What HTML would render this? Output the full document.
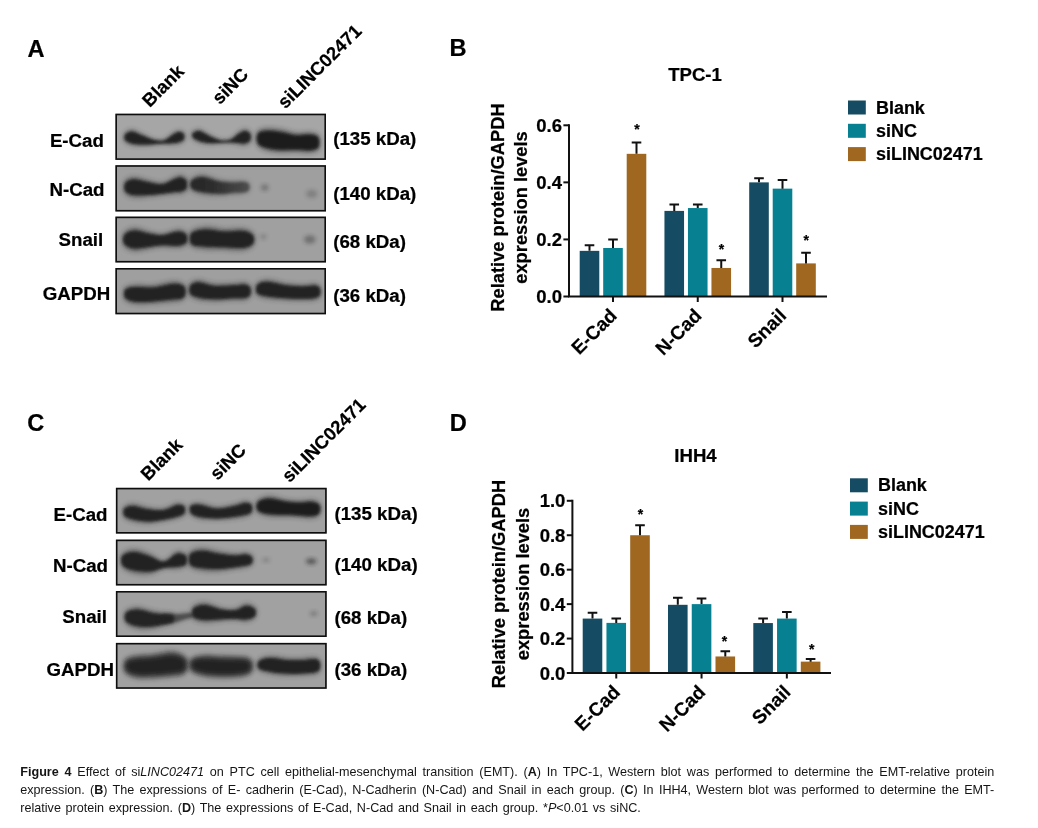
<!DOCTYPE html>
<html lang="en"><head><meta charset="utf-8"><title>Figure 4</title>
<style>
html,body{margin:0;padding:0;background:#fff;}
body{width:1038px;height:828px;position:relative;overflow:hidden;font-family:'Liberation Sans', sans-serif;}
svg{position:absolute;left:0;top:0;}
svg text{font-family:'Liberation Sans', sans-serif;fill:#000;stroke:#000;stroke-width:0.22px;}
.cap{position:absolute;left:20.3px;width:974px;font-size:12.6px;color:#151515;line-height:18px;height:18px;overflow:visible;}
.j{text-align:justify;text-align-last:justify;}
.l3{white-space:nowrap;word-spacing:1.15px;}
.cap b{font-weight:bold;}
</style></head><body>
<svg width="1038" height="828" viewBox="0 0 1038 828">
<defs>
<filter id="b1" x="-20%" y="-50%" width="140%" height="200%"><feGaussianBlur stdDeviation="1.7"/></filter>
<filter id="b2" x="-50%" y="-50%" width="200%" height="200%"><feGaussianBlur stdDeviation="2.2"/></filter>
<filter id="b3" x="-20%" y="-50%" width="140%" height="200%"><feGaussianBlur stdDeviation="2.4"/></filter>
<linearGradient id="g1" x1="0" y1="0" x2="1" y2="0"><stop offset="0" stop-color="#242424"/><stop offset="0.35" stop-color="#2a2a2a"/><stop offset="1" stop-color="#4c4c4c"/></linearGradient>
</defs>

<text x="27.50" y="56.80" font-size="23.6" font-weight="bold" text-anchor="start">A</text>
<clipPath id="cpa1"><rect x="115.4" y="113.7" width="210.6" height="46.2"/></clipPath>
<rect x="115.4" y="113.7" width="210.6" height="46.2" fill="#a6a6a6"/>
<g clip-path="url(#cpa1)">
<path d="M124.4 133.7C125.7 131.8 128.9 129.6 131.9 129.6C134.9 129.7 139.0 132.6 142.5 134.1C146.0 135.7 149.6 138.0 153.1 139.0C156.7 139.9 160.6 140.7 163.7 139.9C166.8 139.1 169.3 135.7 171.7 134.1C174.1 132.5 176.2 130.7 178.4 130.5C180.5 130.3 183.4 131.3 184.5 132.9C185.5 134.6 185.5 138.6 184.5 140.4C183.4 142.2 180.5 143.2 178.4 143.9C176.2 144.6 174.1 144.5 171.7 144.5C169.3 144.5 166.8 143.9 163.7 144.0C160.6 144.1 156.7 144.6 153.1 144.9C149.6 145.3 146.0 146.0 142.5 146.1C139.0 146.1 134.9 146.1 131.9 145.3C128.9 144.5 125.7 143.1 124.4 141.2C123.2 139.3 123.2 135.6 124.4 133.7Z" fill="#242424" opacity="0.45" filter="url(#b3)"/>
<path d="M125.2 134.6C126.3 133.2 129.0 131.4 131.9 131.5C134.7 131.7 139.0 134.2 142.5 135.6C146.0 137.0 149.6 138.9 153.1 139.7C156.7 140.5 160.6 141.1 163.7 140.4C166.8 139.7 169.3 136.8 171.7 135.4C174.1 134.0 176.4 132.4 178.4 132.1C180.3 131.9 182.8 132.6 183.7 133.8C184.6 135.1 184.6 138.1 183.7 139.5C182.8 140.9 180.3 141.6 178.4 142.2C176.4 142.9 174.1 143.0 171.7 143.2C169.3 143.5 166.8 143.3 163.7 143.5C160.6 143.7 156.7 144.0 153.1 144.2C149.6 144.4 146.0 144.7 142.5 144.6C139.0 144.5 134.7 144.1 131.9 143.4C129.0 142.6 126.3 141.7 125.2 140.3C124.1 138.8 124.1 136.1 125.2 134.6Z" fill="#242424" opacity="1.00" filter="url(#b1)"/>
<path d="M192.2 132.3C193.4 130.9 196.8 129.1 199.6 129.4C202.4 129.8 205.6 132.8 208.9 134.5C212.2 136.1 216.0 138.6 219.5 139.4C223.1 140.2 227.0 140.4 230.1 139.3C233.2 138.2 235.7 134.3 238.1 132.6C240.5 130.8 242.6 129.0 244.8 129.0C246.9 129.0 249.8 130.6 250.9 132.7C251.9 134.8 251.9 139.5 250.9 141.7C249.8 143.8 246.9 144.9 244.8 145.4C242.6 145.9 240.5 144.9 238.1 144.5C235.7 144.1 233.2 143.2 230.1 143.0C227.0 142.9 223.1 143.3 219.5 143.5C216.0 143.7 212.2 144.3 208.9 144.2C205.6 144.0 202.4 143.8 199.6 142.8C196.8 141.9 193.4 140.1 192.2 138.3C190.9 136.6 190.9 133.8 192.2 132.3Z" fill="#242424" opacity="0.45" filter="url(#b3)"/>
<path d="M193.0 133.1C194.1 132.0 196.9 130.6 199.6 131.1C202.3 131.5 205.6 134.2 208.9 135.7C212.2 137.1 216.0 139.2 219.5 139.9C223.1 140.6 227.0 140.7 230.1 139.8C233.2 138.8 235.7 135.5 238.1 134.0C240.5 132.6 242.8 131.0 244.8 131.0C246.7 131.0 249.2 132.2 250.1 133.8C251.0 135.4 251.0 139.0 250.1 140.6C249.2 142.1 246.7 143.0 244.8 143.4C242.8 143.8 240.5 143.1 238.1 143.0C235.7 142.9 233.2 142.6 230.1 142.6C227.0 142.6 223.1 142.9 219.5 143.0C216.0 143.0 212.2 143.3 208.9 143.0C205.6 142.7 202.3 142.1 199.6 141.2C196.9 140.3 194.1 138.9 193.0 137.6C191.9 136.2 191.9 134.2 193.0 133.1Z" fill="#242424" opacity="1.00" filter="url(#b1)"/>
<path d="M257.0 132.2C258.3 129.4 261.3 128.7 265.2 128.1C269.1 127.6 275.4 128.2 280.6 129.0C285.8 129.8 291.7 132.3 296.5 132.8C301.4 133.3 306.1 131.6 309.8 132.1C313.6 132.6 317.6 132.9 319.1 135.8C320.7 138.6 320.7 146.3 319.1 149.2C317.6 152.1 313.6 152.4 309.8 152.9C306.1 153.4 301.4 152.2 296.5 152.2C291.7 152.2 285.8 153.1 280.6 152.8C275.4 152.5 269.1 151.8 265.2 150.5C261.3 149.2 258.3 147.9 257.0 144.8C255.6 141.8 255.6 135.0 257.0 132.2Z" fill="#1e1e1e" opacity="0.45" filter="url(#b3)"/>
<path d="M257.8 133.7C259.0 131.7 261.4 131.2 265.2 130.9C269.0 130.6 275.4 131.2 280.6 131.9C285.8 132.6 291.7 134.7 296.5 135.2C301.4 135.6 306.2 134.3 309.8 134.6C313.5 135.0 316.9 135.3 318.3 137.4C319.7 139.6 319.7 145.4 318.3 147.6C316.9 149.7 313.5 150.0 309.8 150.4C306.2 150.7 301.4 149.9 296.5 149.8C291.7 149.7 285.8 150.2 280.6 149.9C275.4 149.6 269.0 148.8 265.2 147.7C261.4 146.6 259.0 145.6 257.8 143.3C256.5 141.0 256.5 135.8 257.8 133.7Z" fill="#1e1e1e" opacity="1.00" filter="url(#b1)"/>
</g>
<rect x="116.20" y="114.50" width="209.00" height="44.60" fill="none" stroke="#0e0e0e" stroke-width="1.6"/>
<clipPath id="cpa2"><rect x="115.4" y="165.2" width="210.6" height="46.30000000000001"/></clipPath>
<rect x="115.4" y="165.2" width="210.6" height="46.30000000000001" fill="#9f9f9f"/>
<g clip-path="url(#cpa2)">
<path d="M124.4 181.5C125.9 178.9 129.3 177.0 133.2 176.7C137.1 176.4 142.9 178.9 147.8 179.9C152.7 180.9 158.0 183.1 162.4 182.6C166.8 182.2 171.3 178.2 174.4 177.0C177.5 175.7 178.9 174.8 181.0 175.1C183.1 175.5 186.1 176.8 187.1 179.2C188.1 181.7 188.1 187.3 187.1 189.7C186.1 192.1 183.1 193.0 181.0 193.8C178.9 194.5 177.5 193.8 174.4 194.1C171.3 194.4 166.8 194.8 162.4 195.3C158.0 195.8 152.7 196.6 147.8 197.0C142.9 197.4 137.1 198.3 133.2 197.6C129.3 196.8 125.9 195.4 124.4 192.7C123.0 190.0 123.0 184.2 124.4 181.5Z" fill="#242424" opacity="0.45" filter="url(#b3)"/>
<path d="M125.2 182.9C126.6 180.9 129.4 179.4 133.2 179.2C137.0 179.1 142.9 181.2 147.8 182.0C152.7 182.8 158.0 184.7 162.4 184.2C166.8 183.7 171.3 180.2 174.4 179.1C177.5 177.9 179.0 177.2 181.0 177.4C183.0 177.7 185.4 178.7 186.3 180.5C187.2 182.4 187.2 186.6 186.3 188.4C185.4 190.2 183.0 190.9 181.0 191.5C179.0 192.1 177.5 191.6 174.4 192.0C171.3 192.4 166.8 193.3 162.4 193.8C158.0 194.2 152.7 194.7 147.8 194.9C142.9 195.1 137.0 195.6 133.2 195.0C129.4 194.4 126.6 193.3 125.2 191.3C123.9 189.3 123.9 184.9 125.2 182.9Z" fill="#242424" opacity="1.00" filter="url(#b1)"/>
<path d="M190.8 179.2C192.7 176.7 197.5 174.4 202.3 174.4C207.0 174.4 214.4 178.4 219.5 179.5C224.6 180.5 228.8 180.8 232.8 180.9C236.8 181.1 240.6 180.0 243.4 180.4C246.2 180.8 248.5 181.7 249.5 183.4C250.6 185.1 250.6 189.1 249.5 190.8C248.5 192.6 246.2 193.2 243.4 193.8C240.6 194.4 236.8 194.0 232.8 194.4C228.8 194.7 224.6 195.8 219.5 195.8C214.4 195.9 207.0 195.6 202.3 194.5C197.5 193.5 192.7 192.2 190.8 189.7C188.9 187.1 188.9 181.8 190.8 179.2Z" fill="url(#g1)" opacity="0.44" filter="url(#b3)"/>
<path d="M191.6 180.5C193.4 178.6 197.6 176.7 202.3 176.9C206.9 177.0 214.4 180.5 219.5 181.5C224.6 182.4 228.8 182.5 232.8 182.6C236.8 182.7 240.8 181.8 243.4 182.1C246.1 182.3 247.9 183.0 248.7 184.3C249.6 185.6 249.6 188.6 248.7 189.9C247.9 191.2 246.1 191.7 243.4 192.2C240.8 192.6 236.8 192.4 232.8 192.7C228.8 193.0 224.6 193.9 219.5 193.8C214.4 193.7 206.9 193.0 202.3 192.0C197.6 191.1 193.4 190.3 191.6 188.4C189.9 186.5 189.9 182.4 191.6 180.5Z" fill="url(#g1)" opacity="0.97" filter="url(#b1)"/>
<ellipse cx="264.7" cy="187.6" rx="3.7" ry="3.2" fill="#1a1a1a" opacity="0.35" filter="url(#b2)"/>
<ellipse cx="311.7" cy="193.8" rx="5.8" ry="4.0" fill="#1a1a1a" opacity="0.24" filter="url(#b2)"/>
</g>
<rect x="116.20" y="166.00" width="209.00" height="44.70" fill="none" stroke="#0e0e0e" stroke-width="1.6"/>
<clipPath id="cpa3"><rect x="115.4" y="216.6" width="210.6" height="45.900000000000006"/></clipPath>
<rect x="115.4" y="216.6" width="210.6" height="45.900000000000006" fill="#a0a0a0"/>
<g clip-path="url(#cpa3)">
<path d="M123.6 233.1C125.5 230.1 130.1 227.8 134.5 227.5C139.0 227.3 145.8 230.7 150.5 231.7C155.1 232.7 157.8 233.9 162.4 233.5C167.1 233.1 174.2 229.3 178.4 229.3C182.5 229.3 185.7 231.0 187.1 233.4C188.6 235.9 188.6 241.4 187.1 243.9C185.7 246.3 182.5 247.4 178.4 248.0C174.2 248.5 167.1 246.8 162.4 246.9C157.8 247.1 155.1 248.1 150.5 248.8C145.8 249.5 139.0 251.9 134.5 251.4C130.1 250.9 125.5 248.8 123.6 245.8C121.8 242.7 121.8 236.2 123.6 233.1Z" fill="#242424" opacity="0.45" filter="url(#b3)"/>
<path d="M124.4 234.7C126.1 232.4 130.2 230.6 134.5 230.4C138.9 230.3 145.8 233.0 150.5 233.8C155.1 234.6 157.8 235.5 162.4 235.2C167.1 234.8 174.4 231.7 178.4 231.6C182.3 231.5 185.0 232.9 186.3 234.7C187.6 236.5 187.6 240.8 186.3 242.6C185.0 244.4 182.3 245.2 178.4 245.7C174.4 246.1 167.1 245.1 162.4 245.3C157.8 245.5 155.1 246.2 150.5 246.7C145.8 247.2 138.9 248.8 134.5 248.4C130.2 248.0 126.1 246.5 124.4 244.2C122.8 241.9 122.8 237.0 124.4 234.7Z" fill="#242424" opacity="1.00" filter="url(#b1)"/>
<path d="M190.8 231.2C193.4 227.9 200.6 226.9 206.2 226.6C211.9 226.2 218.6 228.7 224.8 229.0C231.0 229.3 238.6 227.5 243.4 228.3C248.3 229.1 252.1 231.1 253.8 233.9C255.5 236.6 255.5 242.2 253.8 245.0C252.1 247.8 248.3 249.8 243.4 250.6C238.6 251.4 231.0 250.0 224.8 249.9C218.6 249.7 211.9 250.3 206.2 249.7C200.6 249.0 193.4 249.2 190.8 246.1C188.3 243.0 188.3 234.4 190.8 231.2Z" fill="#242424" opacity="0.45" filter="url(#b3)"/>
<path d="M191.6 233.0C194.1 230.5 200.7 229.6 206.2 229.4C211.8 229.2 218.6 231.3 224.8 231.6C231.0 231.8 238.7 230.4 243.4 231.0C248.1 231.6 251.4 233.1 253.0 235.2C254.6 237.3 254.6 241.5 253.0 243.7C251.4 245.8 248.1 247.3 243.4 247.9C238.7 248.5 231.0 247.5 224.8 247.3C218.6 247.1 211.8 247.3 206.2 246.8C200.7 246.3 194.1 246.6 191.6 244.3C189.2 242.0 189.2 235.5 191.6 233.0Z" fill="#242424" opacity="1.00" filter="url(#b1)"/>
<ellipse cx="263.3" cy="236.8" rx="3.2" ry="2.7" fill="#1a1a1a" opacity="0.22" filter="url(#b2)"/>
<ellipse cx="309.8" cy="239.4" rx="5.8" ry="4.0" fill="#1a1a1a" opacity="0.38" filter="url(#b2)"/>
</g>
<rect x="116.20" y="217.40" width="209.00" height="44.30" fill="none" stroke="#0e0e0e" stroke-width="1.6"/>
<clipPath id="cpa4"><rect x="115.4" y="268.0" width="210.6" height="46.30000000000001"/></clipPath>
<rect x="115.4" y="268.0" width="210.6" height="46.30000000000001" fill="#9f9f9f"/>
<g clip-path="url(#cpa4)">
<path d="M124.4 288.3C126.1 285.8 129.7 285.3 134.5 284.7C139.3 284.2 146.9 285.7 153.1 285.1C159.3 284.5 167.1 281.8 171.7 281.3C176.4 280.9 178.7 281.5 181.0 282.5C183.4 283.4 185.0 284.6 185.8 286.9C186.6 289.3 186.6 294.3 185.8 296.6C185.0 299.0 183.4 300.2 181.0 301.1C178.7 302.0 176.4 301.8 171.7 302.2C167.1 302.6 159.3 303.4 153.1 303.7C146.9 304.1 139.3 304.8 134.5 304.1C129.7 303.4 126.1 302.1 124.4 299.5C122.7 296.8 122.7 290.8 124.4 288.3Z" fill="#242424" opacity="0.45" filter="url(#b3)"/>
<path d="M125.2 289.7C126.8 287.8 129.9 287.5 134.5 287.1C139.2 286.7 146.9 287.9 153.1 287.4C159.3 286.9 167.1 284.3 171.7 283.9C176.4 283.5 178.8 284.0 181.0 284.7C183.2 285.4 184.3 286.3 185.0 288.1C185.7 289.9 185.7 293.6 185.0 295.4C184.3 297.2 183.2 298.1 181.0 298.8C178.8 299.5 176.4 299.2 171.7 299.6C167.1 300.1 159.3 301.1 153.1 301.4C146.9 301.8 139.2 302.3 134.5 301.7C129.9 301.2 126.8 300.1 125.2 298.1C123.7 296.1 123.7 291.5 125.2 289.7Z" fill="#242424" opacity="1.00" filter="url(#b1)"/>
<path d="M189.5 284.3C191.0 281.7 194.2 280.0 198.3 279.8C202.4 279.7 208.5 283.1 214.2 283.6C220.0 284.2 227.7 283.4 232.8 283.2C237.9 283.0 241.7 281.8 244.8 282.3C247.8 282.8 249.8 284.1 250.9 286.4C251.9 288.7 251.9 293.8 250.9 296.1C249.8 298.4 247.8 299.5 244.8 300.2C241.7 300.9 237.9 300.1 232.8 300.3C227.7 300.6 220.0 301.6 214.2 301.5C208.5 301.4 202.4 301.0 198.3 300.0C194.2 299.0 191.0 298.1 189.5 295.5C188.0 292.9 188.0 286.9 189.5 284.3Z" fill="#242424" opacity="0.45" filter="url(#b3)"/>
<path d="M190.3 285.7C191.6 283.7 194.3 282.3 198.3 282.3C202.3 282.3 208.5 285.3 214.2 285.8C220.0 286.3 227.7 285.5 232.8 285.3C237.9 285.1 241.9 284.1 244.8 284.5C247.6 284.9 249.2 285.8 250.1 287.6C251.0 289.3 251.0 293.2 250.1 294.9C249.2 296.6 247.6 297.4 244.8 298.0C241.9 298.5 237.9 298.0 232.8 298.2C227.7 298.5 220.0 299.4 214.2 299.3C208.5 299.2 202.3 298.4 198.3 297.5C194.3 296.6 191.6 296.1 190.3 294.1C189.0 292.2 189.0 287.7 190.3 285.7Z" fill="#242424" opacity="1.00" filter="url(#b1)"/>
<path d="M256.4 283.5C258.3 281.0 262.4 279.5 267.3 279.4C272.2 279.4 280.2 282.4 285.9 283.2C291.7 284.0 297.0 284.3 301.9 284.4C306.7 284.4 312.0 283.1 315.1 283.6C318.3 284.1 319.8 285.2 320.7 287.3C321.7 289.4 321.7 294.1 320.7 296.2C319.8 298.3 318.3 299.2 315.1 300.0C312.0 300.7 306.7 300.7 301.9 300.8C297.0 300.8 291.7 300.7 285.9 300.3C280.2 300.0 272.2 299.7 267.3 298.8C262.4 297.9 258.3 297.2 256.4 294.7C254.6 292.2 254.6 286.1 256.4 283.5Z" fill="#242424" opacity="0.45" filter="url(#b3)"/>
<path d="M257.2 284.9C258.9 283.0 262.5 281.7 267.3 281.8C272.1 281.9 280.2 284.5 285.9 285.3C291.7 286.1 297.0 286.3 301.9 286.4C306.7 286.4 312.1 285.2 315.1 285.6C318.1 285.9 319.1 286.8 319.9 288.4C320.7 290.0 320.7 293.5 319.9 295.1C319.1 296.7 318.1 297.3 315.1 297.9C312.1 298.5 306.7 298.7 301.9 298.7C297.0 298.8 291.7 298.6 285.9 298.2C280.2 297.8 272.1 297.2 267.3 296.4C262.5 295.6 258.9 295.2 257.2 293.3C255.6 291.4 255.6 286.8 257.2 284.9Z" fill="#242424" opacity="1.00" filter="url(#b1)"/>
</g>
<rect x="116.20" y="268.80" width="209.00" height="44.70" fill="none" stroke="#0e0e0e" stroke-width="1.6"/>
<text x="103.90" y="147.00" font-size="18.7" font-weight="bold" text-anchor="end">E-Cad</text>
<text x="104.50" y="195.50" font-size="18.7" font-weight="bold" text-anchor="end">N-Cad</text>
<text x="103.20" y="245.90" font-size="18.7" font-weight="bold" text-anchor="end">Snail</text>
<text x="110.30" y="299.70" font-size="18.7" font-weight="bold" text-anchor="end">GAPDH</text>
<text x="333.20" y="144.50" font-size="18.7" font-weight="bold" text-anchor="start">(135 kDa)</text>
<text x="333.20" y="199.80" font-size="18.7" font-weight="bold" text-anchor="start">(140 kDa)</text>
<text x="333.20" y="248.20" font-size="18.7" font-weight="bold" text-anchor="start">(68 kDa)</text>
<text x="333.20" y="301.50" font-size="18.7" font-weight="bold" text-anchor="start">(36 kDa)</text>
<text x="0" y="0" transform="translate(149.80 108.00) rotate(-45)" font-size="18.4" font-weight="bold" text-anchor="start">Blank</text>
<text x="0" y="0" transform="translate(219.70 105.30) rotate(-45)" font-size="18.4" font-weight="bold" text-anchor="start">siNC</text>
<text x="0" y="0" transform="translate(285.30 109.60) rotate(-45)" font-size="18.4" font-weight="bold" text-anchor="start">siLINC02471</text>
<text x="27.30" y="431.00" font-size="23.6" font-weight="bold" text-anchor="start">C</text>
<clipPath id="cpc1"><rect x="115.9" y="487.8" width="210.79999999999998" height="45.80000000000001"/></clipPath>
<rect x="115.9" y="487.8" width="210.79999999999998" height="45.80000000000001" fill="#a1a1a1"/>
<g clip-path="url(#cpc1)">
<path d="M123.6 507.3C125.2 505.1 129.2 503.7 133.2 503.6C137.2 503.6 142.7 506.5 147.8 507.3C152.9 508.1 158.9 509.1 163.7 508.4C168.6 507.7 173.5 503.6 177.0 503.1C180.6 502.6 183.7 503.6 185.0 505.5C186.3 507.4 186.3 512.4 185.0 514.6C183.7 516.8 180.6 517.5 177.0 518.6C173.5 519.8 168.6 520.5 163.7 521.3C158.9 522.1 152.9 523.4 147.8 523.5C142.7 523.6 137.2 522.9 133.2 521.8C129.2 520.7 125.2 519.5 123.6 517.0C122.0 514.6 122.0 509.6 123.6 507.3Z" fill="#242424" opacity="0.45" filter="url(#b3)"/>
<path d="M124.4 508.5C125.9 506.9 129.3 505.7 133.2 505.9C137.1 506.0 142.7 508.6 147.8 509.3C152.9 509.9 158.9 510.7 163.7 510.0C168.6 509.2 173.6 505.5 177.0 505.0C180.4 504.4 183.0 505.2 184.2 506.6C185.4 508.1 185.4 511.8 184.2 513.5C183.0 515.2 180.4 515.7 177.0 516.7C173.6 517.8 168.6 518.9 163.7 519.7C158.9 520.5 152.9 521.5 147.8 521.5C142.7 521.5 137.1 520.5 133.2 519.6C129.3 518.6 125.9 517.7 124.4 515.8C123.0 514.0 123.0 510.2 124.4 508.5Z" fill="#242424" opacity="1.00" filter="url(#b1)"/>
<path d="M190.0 505.0C191.6 503.1 195.1 502.4 199.6 502.8C204.1 503.1 211.3 506.7 216.9 507.0C222.4 507.3 228.2 505.5 232.8 504.5C237.5 503.5 241.5 501.0 244.8 500.9C248.0 500.8 251.0 501.9 252.2 503.9C253.4 505.9 253.4 510.8 252.2 513.0C251.0 515.2 248.0 516.1 244.8 517.1C241.5 518.1 237.5 518.3 232.8 518.8C228.2 519.3 222.4 520.0 216.9 520.0C211.3 520.0 204.1 519.9 199.6 519.0C195.1 518.0 191.6 516.4 190.0 514.1C188.4 511.7 188.4 506.9 190.0 505.0Z" fill="#242424" opacity="0.45" filter="url(#b3)"/>
<path d="M190.8 506.1C192.3 504.7 195.3 504.3 199.6 504.7C203.9 505.2 211.3 508.4 216.9 508.6C222.4 508.9 228.2 507.2 232.8 506.3C237.5 505.3 241.7 503.1 244.8 502.9C247.9 502.7 250.3 503.5 251.4 505.0C252.5 506.5 252.5 510.2 251.4 511.9C250.3 513.6 247.9 514.2 244.8 515.1C241.7 516.0 237.5 516.5 232.8 517.0C228.2 517.6 222.4 518.4 216.9 518.4C211.3 518.4 203.9 517.9 199.6 517.0C195.3 516.1 192.3 514.8 190.8 512.9C189.4 511.1 189.4 507.5 190.8 506.1Z" fill="#242424" opacity="1.00" filter="url(#b1)"/>
<path d="M257.2 500.5C259.4 497.8 265.2 496.1 270.0 496.0C274.8 495.8 281.1 498.7 285.9 499.5C290.8 500.2 294.8 500.5 299.2 500.6C303.6 500.6 309.0 499.1 312.5 499.6C316.0 500.1 318.9 501.4 320.2 503.8C321.5 506.2 321.5 511.8 320.2 514.2C318.9 516.6 316.0 517.9 312.5 518.4C309.0 518.9 303.6 517.7 299.2 517.4C294.8 517.2 290.8 517.1 285.9 516.9C281.1 516.8 274.8 517.5 270.0 516.7C265.2 515.9 259.4 514.9 257.2 512.2C255.1 509.5 255.1 503.2 257.2 500.5Z" fill="#1e1e1e" opacity="0.45" filter="url(#b3)"/>
<path d="M258.0 501.9C260.0 499.9 265.3 498.6 270.0 498.5C274.6 498.5 281.1 500.9 285.9 501.6C290.8 502.3 294.8 502.6 299.2 502.6C303.6 502.7 309.1 501.5 312.5 501.9C315.8 502.3 318.2 503.3 319.4 505.1C320.5 506.9 320.5 511.1 319.4 512.9C318.2 514.7 315.8 515.7 312.5 516.1C309.1 516.5 303.6 515.6 299.2 515.4C294.8 515.1 290.8 515.0 285.9 514.8C281.1 514.6 274.6 514.8 270.0 514.2C265.3 513.5 260.0 512.8 258.0 510.7C256.0 508.7 256.0 504.0 258.0 501.9Z" fill="#1e1e1e" opacity="1.00" filter="url(#b1)"/>
</g>
<rect x="116.70" y="488.60" width="209.20" height="44.20" fill="none" stroke="#0e0e0e" stroke-width="1.6"/>
<clipPath id="cpc2"><rect x="115.9" y="539.6" width="210.79999999999998" height="45.89999999999998"/></clipPath>
<rect x="115.9" y="539.6" width="210.79999999999998" height="45.89999999999998" fill="#a1a1a1"/>
<g clip-path="url(#cpc2)">
<path d="M121.8 554.0C123.9 551.0 129.7 549.0 134.5 549.0C139.3 549.0 145.6 552.0 150.5 553.9C155.3 555.9 159.5 560.9 163.7 560.6C168.0 560.2 172.6 553.2 175.7 551.8C178.8 550.3 180.4 551.3 182.3 551.9C184.2 552.5 186.3 553.4 187.1 555.5C187.9 557.6 187.9 562.4 187.1 564.5C186.3 566.6 184.2 567.3 182.3 568.1C180.4 568.9 178.8 569.1 175.7 569.3C172.6 569.4 168.0 568.2 163.7 569.0C159.5 569.8 155.3 573.2 150.5 574.0C145.6 574.8 139.3 574.8 134.5 573.6C129.7 572.5 123.9 570.3 121.8 567.0C119.7 563.7 119.7 557.0 121.8 554.0Z" fill="#242424" opacity="0.45" filter="url(#b3)"/>
<path d="M122.6 555.6C124.6 553.4 129.9 551.9 134.5 552.0C139.2 552.2 145.6 554.8 150.5 556.4C155.3 558.0 159.5 562.0 163.7 561.6C168.0 561.2 172.6 555.2 175.7 553.9C178.8 552.6 180.6 553.4 182.3 553.9C184.1 554.3 185.7 555.0 186.3 556.6C187.0 558.2 187.0 561.8 186.3 563.4C185.7 565.0 184.1 565.5 182.3 566.1C180.6 566.7 178.8 566.8 175.7 567.1C172.6 567.4 168.0 567.2 163.7 568.0C159.5 568.7 155.3 571.1 150.5 571.6C145.6 572.0 139.2 571.6 134.5 570.6C129.9 569.6 124.6 567.9 122.6 565.4C120.6 562.9 120.6 557.9 122.6 555.6Z" fill="#242424" opacity="1.00" filter="url(#b1)"/>
<path d="M189.5 552.3C191.6 549.2 197.3 548.0 202.3 547.8C207.3 547.6 214.0 550.3 219.5 551.3C225.1 552.2 231.0 553.3 235.5 553.5C239.9 553.8 243.2 552.1 246.1 552.5C249.0 553.0 251.6 554.2 252.7 556.1C253.8 558.0 253.8 562.0 252.7 563.9C251.6 565.8 249.0 566.6 246.1 567.4C243.2 568.3 239.9 568.4 235.5 569.1C231.0 569.8 225.1 571.0 219.5 571.4C214.0 571.7 207.3 571.9 202.3 571.1C197.3 570.3 191.6 569.7 189.5 566.6C187.4 563.5 187.4 555.5 189.5 552.3Z" fill="#242424" opacity="0.45" filter="url(#b3)"/>
<path d="M190.3 554.1C192.3 551.7 197.4 550.7 202.3 550.7C207.1 550.6 214.0 552.9 219.5 553.7C225.1 554.5 231.0 555.4 235.5 555.5C239.9 555.6 243.3 554.1 246.1 554.4C248.8 554.6 251.0 555.6 251.9 557.1C252.9 558.5 252.9 561.5 251.9 562.9C251.0 564.4 248.8 564.9 246.1 565.6C243.3 566.3 239.9 566.6 235.5 567.2C231.0 567.7 225.1 568.7 219.5 568.9C214.0 569.1 207.1 568.9 202.3 568.3C197.4 567.6 192.3 567.2 190.3 564.8C188.3 562.5 188.3 556.4 190.3 554.1Z" fill="#242424" opacity="1.00" filter="url(#b1)"/>
<ellipse cx="266.0" cy="560.0" rx="3.7" ry="2.1" fill="#1a1a1a" opacity="0.25" filter="url(#b2)"/>
<ellipse cx="311.2" cy="561.3" rx="5.3" ry="2.9" fill="#1a1a1a" opacity="0.6" filter="url(#b2)"/>
</g>
<rect x="116.70" y="540.40" width="209.20" height="44.30" fill="none" stroke="#0e0e0e" stroke-width="1.6"/>
<clipPath id="cpc3"><rect x="115.9" y="591.0" width="210.79999999999998" height="46.0"/></clipPath>
<rect x="115.9" y="591.0" width="210.79999999999998" height="46.0" fill="#a1a1a1"/>
<g clip-path="url(#cpc3)">
<path d="M125.2 611.3C127.2 608.6 132.5 607.0 137.2 606.9C141.8 606.8 148.3 609.6 153.1 610.7C158.0 611.7 162.9 612.5 166.4 613.1C169.9 613.8 172.6 613.0 173.8 614.5C175.1 616.1 175.1 620.6 173.8 622.3C172.6 624.0 169.9 623.7 166.4 624.8C162.9 625.9 158.0 628.1 153.1 628.8C148.3 629.5 141.8 629.9 137.2 628.9C132.5 627.9 127.2 625.9 125.2 622.9C123.2 620.0 123.2 613.9 125.2 611.3Z" fill="#242424" opacity="0.44" filter="url(#b3)"/>
<path d="M126.0 612.7C127.9 610.7 132.7 609.6 137.2 609.6C141.7 609.6 148.3 612.1 153.1 612.9C158.0 613.7 163.1 614.1 166.4 614.6C169.7 615.0 171.9 614.4 173.0 615.5C174.1 616.6 174.1 620.0 173.0 621.4C171.9 622.7 169.7 622.5 166.4 623.4C163.1 624.2 158.0 626.1 153.1 626.6C148.3 627.1 141.7 627.1 137.2 626.2C132.7 625.4 127.9 623.7 126.0 621.5C124.2 619.2 124.2 614.7 126.0 612.7Z" fill="#242424" opacity="0.97" filter="url(#b1)"/>
<path d="M161.9 613.4C164.0 611.6 170.5 613.4 174.4 613.2C178.2 613.1 181.8 612.5 185.0 612.4C188.2 612.3 192.3 611.9 193.8 612.7C195.2 613.5 195.2 616.0 193.8 617.2C192.3 618.5 188.2 619.1 185.0 620.2C181.8 621.3 178.2 622.9 174.4 623.6C170.5 624.3 164.0 626.2 161.9 624.5C159.8 622.8 159.8 615.3 161.9 613.4Z" fill="#242424" opacity="0.25" filter="url(#b3)"/>
<path d="M162.7 614.8C164.6 613.4 170.7 614.8 174.4 614.5C178.1 614.3 181.9 613.6 185.0 613.4C188.1 613.2 191.6 612.7 193.0 613.3C194.3 613.8 194.3 615.7 193.0 616.7C191.6 617.7 188.1 618.3 185.0 619.2C181.9 620.2 178.1 621.7 174.4 622.3C170.7 623.0 164.6 624.4 162.7 623.1C160.7 621.9 160.7 616.2 162.7 614.8Z" fill="#242424" opacity="0.55" filter="url(#b1)"/>
<path d="M192.7 606.8C194.7 604.1 200.0 602.3 204.9 602.5C209.8 602.7 217.1 606.9 222.2 608.0C227.3 609.0 231.5 609.4 235.5 608.6C239.4 607.9 242.7 603.7 246.1 603.5C249.4 603.4 254.1 605.4 255.6 607.7C257.2 610.0 257.2 615.1 255.6 617.4C254.1 619.8 249.4 621.2 246.1 621.7C242.7 622.1 239.4 620.4 235.5 620.3C231.5 620.2 227.3 620.5 222.2 620.9C217.1 621.3 209.8 623.0 204.9 622.6C200.0 622.2 194.7 621.1 192.7 618.4C190.7 615.8 190.7 609.4 192.7 606.8Z" fill="#242424" opacity="0.45" filter="url(#b3)"/>
<path d="M193.5 608.2C195.4 606.2 200.1 604.8 204.9 605.0C209.7 605.2 217.1 608.7 222.2 609.6C227.3 610.4 231.5 610.7 235.5 610.0C239.4 609.4 242.9 605.9 246.1 605.7C249.3 605.6 253.4 607.2 254.8 608.9C256.3 610.7 256.3 614.5 254.8 616.2C253.4 618.0 249.3 619.0 246.1 619.4C242.9 619.9 239.4 618.9 235.5 618.8C231.5 618.8 227.3 619.1 222.2 619.3C217.1 619.5 209.7 620.5 204.9 620.2C200.1 619.8 195.4 619.0 193.5 617.0C191.6 615.0 191.6 610.2 193.5 608.2Z" fill="#242424" opacity="1.00" filter="url(#b1)"/>
<ellipse cx="313.8" cy="613.6" rx="3.7" ry="2.4" fill="#1a1a1a" opacity="0.3" filter="url(#b2)"/>
</g>
<rect x="116.70" y="591.80" width="209.20" height="44.40" fill="none" stroke="#0e0e0e" stroke-width="1.6"/>
<clipPath id="cpc4"><rect x="115.9" y="642.9" width="210.79999999999998" height="45.89999999999998"/></clipPath>
<rect x="115.9" y="642.9" width="210.79999999999998" height="45.89999999999998" fill="#a1a1a1"/>
<g clip-path="url(#cpc4)">
<path d="M125.2 659.8C127.2 656.8 132.5 656.1 137.2 655.1C141.8 654.1 147.4 654.6 153.1 653.9C158.9 653.3 166.8 651.0 171.7 651.1C176.6 651.3 179.8 653.1 182.3 654.5C184.9 656.0 186.3 657.5 187.1 660.0C187.9 662.6 187.9 667.2 187.1 669.8C186.3 672.3 184.9 674.1 182.3 675.3C179.8 676.5 176.6 676.5 171.7 677.1C166.8 677.6 158.9 678.3 153.1 678.5C147.4 678.8 141.8 679.4 137.2 678.4C132.5 677.5 127.2 675.8 125.2 672.7C123.2 669.6 123.2 662.7 125.2 659.8Z" fill="#242424" opacity="0.45" filter="url(#b3)"/>
<path d="M126.0 661.3C127.9 659.2 132.7 658.7 137.2 658.0C141.7 657.2 147.4 657.6 153.1 656.9C158.9 656.3 166.8 654.3 171.7 654.3C176.6 654.4 179.9 655.9 182.3 657.1C184.8 658.2 185.7 659.3 186.3 661.2C187.0 663.2 187.0 666.7 186.3 668.6C185.7 670.5 184.8 671.8 182.3 672.7C179.9 673.6 176.6 673.4 171.7 673.9C166.8 674.4 158.9 675.2 153.1 675.5C147.4 675.8 141.7 676.3 137.2 675.6C132.7 674.8 127.9 673.5 126.0 671.1C124.2 668.8 124.2 663.5 126.0 661.3Z" fill="#242424" opacity="1.00" filter="url(#b3)"/>
<path d="M190.8 659.1C193.0 656.5 198.8 655.6 203.6 655.0C208.4 654.4 213.8 655.2 219.5 655.4C225.3 655.6 233.5 655.8 238.1 656.1C242.8 656.4 245.1 656.2 247.4 657.2C249.8 658.1 251.4 659.4 252.2 661.7C253.0 664.0 253.0 668.5 252.2 670.8C251.4 673.0 249.8 674.2 247.4 675.3C245.1 676.4 242.8 677.0 238.1 677.5C233.5 677.9 225.3 678.3 219.5 678.1C213.8 677.9 208.4 677.6 203.6 676.4C198.8 675.2 193.0 673.6 190.8 670.7C188.7 667.9 188.7 661.7 190.8 659.1Z" fill="#242424" opacity="0.45" filter="url(#b3)"/>
<path d="M191.6 660.5C193.6 658.6 198.9 658.0 203.6 657.6C208.2 657.3 213.8 658.0 219.5 658.2C225.3 658.4 233.5 658.5 238.1 658.7C242.8 658.9 245.2 658.7 247.4 659.4C249.6 660.1 250.7 661.1 251.4 662.8C252.1 664.5 252.1 667.9 251.4 669.7C250.7 671.4 249.6 672.2 247.4 673.1C245.2 673.9 242.8 674.5 238.1 674.8C233.5 675.2 225.3 675.5 219.5 675.3C213.8 675.1 208.2 674.8 203.6 673.8C198.9 672.8 193.6 671.5 191.6 669.3C189.6 667.1 189.6 662.5 191.6 660.5Z" fill="#242424" opacity="1.00" filter="url(#b3)"/>
<path d="M258.0 660.0C260.0 657.7 265.3 656.2 270.0 655.8C274.6 655.4 280.6 657.3 285.9 657.7C291.2 658.1 297.0 658.1 301.9 658.0C306.7 657.9 312.0 656.4 315.1 657.0C318.2 657.5 319.6 659.0 320.5 661.2C321.3 663.4 321.3 668.0 320.5 670.2C319.6 672.5 318.2 673.6 315.1 674.5C312.0 675.3 306.7 675.3 301.9 675.5C297.0 675.7 291.2 676.1 285.9 675.8C280.6 675.6 274.6 675.0 270.0 674.0C265.3 673.0 260.0 672.1 258.0 669.8C256.0 667.4 256.0 662.4 258.0 660.0Z" fill="#242424" opacity="0.45" filter="url(#b3)"/>
<path d="M258.8 661.2C260.7 659.5 265.5 658.3 270.0 658.1C274.5 657.8 280.6 659.6 285.9 659.9C291.2 660.3 297.0 660.3 301.9 660.2C306.7 660.0 312.2 658.8 315.1 659.1C318.1 659.5 318.9 660.6 319.7 662.3C320.4 664.0 320.4 667.5 319.7 669.1C318.9 670.8 318.1 671.6 315.1 672.3C312.2 673.0 306.7 673.1 301.9 673.4C297.0 673.6 291.2 673.9 285.9 673.6C280.6 673.3 274.5 672.6 270.0 671.7C265.5 670.9 260.7 670.3 258.8 668.6C257.0 666.8 257.0 663.0 258.8 661.2Z" fill="#242424" opacity="1.00" filter="url(#b1)"/>
</g>
<rect x="116.70" y="643.70" width="209.20" height="44.30" fill="none" stroke="#0e0e0e" stroke-width="1.6"/>
<text x="107.50" y="520.50" font-size="18.7" font-weight="bold" text-anchor="end">E-Cad</text>
<text x="108.00" y="572.00" font-size="18.7" font-weight="bold" text-anchor="end">N-Cad</text>
<text x="107.00" y="622.50" font-size="18.7" font-weight="bold" text-anchor="end">Snail</text>
<text x="114.00" y="675.50" font-size="18.7" font-weight="bold" text-anchor="end">GAPDH</text>
<text x="334.50" y="519.50" font-size="18.7" font-weight="bold" text-anchor="start">(135 kDa)</text>
<text x="334.50" y="571.00" font-size="18.7" font-weight="bold" text-anchor="start">(140 kDa)</text>
<text x="334.50" y="623.50" font-size="18.7" font-weight="bold" text-anchor="start">(68 kDa)</text>
<text x="334.50" y="675.50" font-size="18.7" font-weight="bold" text-anchor="start">(36 kDa)</text>
<text x="0" y="0" transform="translate(148.30 481.50) rotate(-45)" font-size="18.4" font-weight="bold" text-anchor="start">Blank</text>
<text x="0" y="0" transform="translate(217.50 481.00) rotate(-45)" font-size="18.4" font-weight="bold" text-anchor="start">siNC</text>
<text x="0" y="0" transform="translate(289.50 483.30) rotate(-45)" font-size="18.4" font-weight="bold" text-anchor="start">siLINC02471</text>
<rect x="579.70" y="250.85" width="19.6" height="45.65" fill="#164c63"/>
<path d="M589.50 250.85V245.14M584.70 245.14H594.30" stroke="#111" stroke-width="2" fill="none"/>
<rect x="603.20" y="247.99" width="19.6" height="48.51" fill="#078092"/>
<path d="M613.00 247.99V239.43M608.20 239.43H617.80" stroke="#111" stroke-width="2" fill="none"/>
<rect x="626.70" y="153.83" width="19.6" height="142.67" fill="#9f6720"/>
<path d="M636.50 153.83V142.42M631.70 142.42H641.30" stroke="#111" stroke-width="2" fill="none"/>
<rect x="664.45" y="210.90" width="19.6" height="85.60" fill="#164c63"/>
<path d="M674.25 210.90V204.62M669.45 204.62H679.05" stroke="#111" stroke-width="2" fill="none"/>
<rect x="687.95" y="208.05" width="19.6" height="88.45" fill="#078092"/>
<path d="M697.75 208.05V204.62M692.95 204.62H702.55" stroke="#111" stroke-width="2" fill="none"/>
<rect x="711.45" y="267.97" width="19.6" height="28.53" fill="#9f6720"/>
<path d="M721.25 267.97V260.26M716.45 260.26H726.05" stroke="#111" stroke-width="2" fill="none"/>
<rect x="749.20" y="182.37" width="19.6" height="114.13" fill="#164c63"/>
<path d="M759.00 182.37V178.37M754.20 178.37H763.80" stroke="#111" stroke-width="2" fill="none"/>
<rect x="772.70" y="188.64" width="19.6" height="107.86" fill="#078092"/>
<path d="M782.50 188.64V180.08M777.70 180.08H787.30" stroke="#111" stroke-width="2" fill="none"/>
<rect x="796.20" y="263.40" width="19.6" height="33.10" fill="#9f6720"/>
<path d="M806.00 263.40V252.84M801.20 252.84H810.80" stroke="#111" stroke-width="2" fill="none"/>
<path d="M569 124.30V297.50M568 296.5H827" stroke="#111" stroke-width="2" fill="none"/>
<path d="M563.4 296.50H569" stroke="#111" stroke-width="2"/>
<text x="562.00" y="303.10" font-size="18.5" font-weight="bold" text-anchor="end">0.0</text>
<path d="M563.4 239.43H569" stroke="#111" stroke-width="2"/>
<text x="562.00" y="246.03" font-size="18.5" font-weight="bold" text-anchor="end">0.2</text>
<path d="M563.4 182.37H569" stroke="#111" stroke-width="2"/>
<text x="562.00" y="188.97" font-size="18.5" font-weight="bold" text-anchor="end">0.4</text>
<path d="M563.4 125.30H569" stroke="#111" stroke-width="2"/>
<text x="562.00" y="131.90" font-size="18.5" font-weight="bold" text-anchor="end">0.6</text>
<path d="M613.00 296.5V302.0" stroke="#111" stroke-width="2"/>
<text x="0" y="0" transform="translate(618.00 316.80) rotate(-45)" font-size="19" font-weight="bold" text-anchor="end">E-Cad</text>
<path d="M697.75 296.5V302.0" stroke="#111" stroke-width="2"/>
<text x="0" y="0" transform="translate(702.75 316.80) rotate(-45)" font-size="19" font-weight="bold" text-anchor="end">N-Cad</text>
<path d="M782.50 296.5V302.0" stroke="#111" stroke-width="2"/>
<text x="0" y="0" transform="translate(787.50 316.80) rotate(-45)" font-size="19" font-weight="bold" text-anchor="end">Snail</text>
<text x="637.00" y="134.00" font-size="14" font-weight="bold" text-anchor="middle">*</text>
<text x="721.40" y="253.50" font-size="14" font-weight="bold" text-anchor="middle">*</text>
<text x="806.20" y="244.70" font-size="14" font-weight="bold" text-anchor="middle">*</text>
<text x="695.00" y="80.90" font-size="18.6" font-weight="bold" text-anchor="middle">TPC-1</text>
<text x="0" y="0" transform="translate(503.60 207.50) rotate(-90)" font-size="18.3" font-weight="bold" text-anchor="middle">Relative protein/GAPDH</text>
<text x="0" y="0" transform="translate(526.80 207.50) rotate(-90)" font-size="18.3" font-weight="bold" text-anchor="middle">expression levels</text>
<rect x="848.0" y="100.5" width="17.8" height="14" fill="#164c63"/>
<text x="876.00" y="113.60" font-size="17.95" font-weight="bold" text-anchor="start">Blank</text>
<rect x="848.0" y="123.8" width="17.8" height="14" fill="#078092"/>
<text x="876.00" y="136.90" font-size="17.95" font-weight="bold" text-anchor="start">siNC</text>
<rect x="848.0" y="147.1" width="17.8" height="14" fill="#9f6720"/>
<text x="876.00" y="160.20" font-size="17.95" font-weight="bold" text-anchor="start">siLINC02471</text>
<rect x="582.70" y="618.58" width="19.6" height="54.42" fill="#164c63"/>
<path d="M592.50 618.58V612.73M587.70 612.73H597.30" stroke="#111" stroke-width="2" fill="none"/>
<rect x="606.45" y="622.89" width="19.6" height="50.11" fill="#078092"/>
<path d="M616.25 622.89V618.58M611.45 618.58H621.05" stroke="#111" stroke-width="2" fill="none"/>
<rect x="630.20" y="535.24" width="19.6" height="137.76" fill="#9f6720"/>
<path d="M640.00 535.24V525.25M635.20 525.25H644.80" stroke="#111" stroke-width="2" fill="none"/>
<rect x="668.00" y="604.81" width="19.6" height="68.19" fill="#164c63"/>
<path d="M677.80 604.81V597.75M673.00 597.75H682.60" stroke="#111" stroke-width="2" fill="none"/>
<rect x="691.75" y="604.12" width="19.6" height="68.88" fill="#078092"/>
<path d="M701.55 604.12V598.44M696.75 598.44H706.35" stroke="#111" stroke-width="2" fill="none"/>
<rect x="715.50" y="656.47" width="19.6" height="16.53" fill="#9f6720"/>
<path d="M725.30 656.47V651.13M720.50 651.13H730.10" stroke="#111" stroke-width="2" fill="none"/>
<rect x="753.30" y="623.06" width="19.6" height="49.94" fill="#164c63"/>
<path d="M763.10 623.06V618.58M758.30 618.58H767.90" stroke="#111" stroke-width="2" fill="none"/>
<rect x="777.05" y="618.58" width="19.6" height="54.42" fill="#078092"/>
<path d="M786.85 618.58V612.04M782.05 612.04H791.65" stroke="#111" stroke-width="2" fill="none"/>
<rect x="800.80" y="661.63" width="19.6" height="11.37" fill="#9f6720"/>
<path d="M810.60 661.63V658.88M805.80 658.88H815.40" stroke="#111" stroke-width="2" fill="none"/>
<path d="M572.4 499.80V674.00M571.4 673H831" stroke="#111" stroke-width="2" fill="none"/>
<path d="M566.8 673.00H572.4" stroke="#111" stroke-width="2"/>
<text x="565.40" y="679.60" font-size="18.5" font-weight="bold" text-anchor="end">0.0</text>
<path d="M566.8 638.56H572.4" stroke="#111" stroke-width="2"/>
<text x="565.40" y="645.16" font-size="18.5" font-weight="bold" text-anchor="end">0.2</text>
<path d="M566.8 604.12H572.4" stroke="#111" stroke-width="2"/>
<text x="565.40" y="610.72" font-size="18.5" font-weight="bold" text-anchor="end">0.4</text>
<path d="M566.8 569.68H572.4" stroke="#111" stroke-width="2"/>
<text x="565.40" y="576.28" font-size="18.5" font-weight="bold" text-anchor="end">0.6</text>
<path d="M566.8 535.24H572.4" stroke="#111" stroke-width="2"/>
<text x="565.40" y="541.84" font-size="18.5" font-weight="bold" text-anchor="end">0.8</text>
<path d="M566.8 500.80H572.4" stroke="#111" stroke-width="2"/>
<text x="565.40" y="507.40" font-size="18.5" font-weight="bold" text-anchor="end">1.0</text>
<path d="M616.25 673V678.5" stroke="#111" stroke-width="2"/>
<text x="0" y="0" transform="translate(621.25 693.30) rotate(-45)" font-size="19" font-weight="bold" text-anchor="end">E-Cad</text>
<path d="M701.55 673V678.5" stroke="#111" stroke-width="2"/>
<text x="0" y="0" transform="translate(706.55 693.30) rotate(-45)" font-size="19" font-weight="bold" text-anchor="end">N-Cad</text>
<path d="M786.85 673V678.5" stroke="#111" stroke-width="2"/>
<text x="0" y="0" transform="translate(791.85 693.30) rotate(-45)" font-size="19" font-weight="bold" text-anchor="end">Snail</text>
<text x="640.40" y="519.00" font-size="14" font-weight="bold" text-anchor="middle">*</text>
<text x="724.50" y="645.80" font-size="14" font-weight="bold" text-anchor="middle">*</text>
<text x="811.70" y="653.90" font-size="14" font-weight="bold" text-anchor="middle">*</text>
<text x="695.50" y="462.40" font-size="18.6" font-weight="bold" text-anchor="middle">IHH4</text>
<text x="0" y="0" transform="translate(505.00 584.00) rotate(-90)" font-size="18.3" font-weight="bold" text-anchor="middle">Relative protein/GAPDH</text>
<text x="0" y="0" transform="translate(528.50 584.00) rotate(-90)" font-size="18.3" font-weight="bold" text-anchor="middle">expression levels</text>
<rect x="850.0" y="478.3" width="17.8" height="14" fill="#164c63"/>
<text x="878.00" y="491.40" font-size="17.95" font-weight="bold" text-anchor="start">Blank</text>
<rect x="850.0" y="501.6" width="17.8" height="14" fill="#078092"/>
<text x="878.00" y="514.70" font-size="17.95" font-weight="bold" text-anchor="start">siNC</text>
<rect x="850.0" y="524.9" width="17.8" height="14" fill="#9f6720"/>
<text x="878.00" y="538.00" font-size="17.95" font-weight="bold" text-anchor="start">siLINC02471</text>
<text x="449.50" y="56.20" font-size="23.6" font-weight="bold" text-anchor="start">B</text>
<text x="449.80" y="431.20" font-size="23.6" font-weight="bold" text-anchor="start">D</text>
</svg>
<div class="cap j" id="cap1" style="top:762.6px;"><b>Figure 4</b> Effect of si<i>LINC02471</i> on PTC cell epithelial-mesenchymal transition (EMT). (<b>A</b>) In TPC-1, Western blot was performed to determine the EMT-relative protein</div>
<div class="cap j" id="cap2" style="top:780.6px;">expression. (<b>B</b>) The expressions of E- cadherin (E-Cad), N-Cadherin (N-Cad) and Snail in each group. (<b>C</b>) In IHH4, Western blot was performed to determine the EMT-</div>
<div class="cap l3" id="cap3" style="top:798.6px;">relative protein expression. (<b>D</b>) The expressions of E-Cad, N-Cad and Snail in each group. *<i>P</i>&lt;0.01 vs siNC.</div>
</body></html>
